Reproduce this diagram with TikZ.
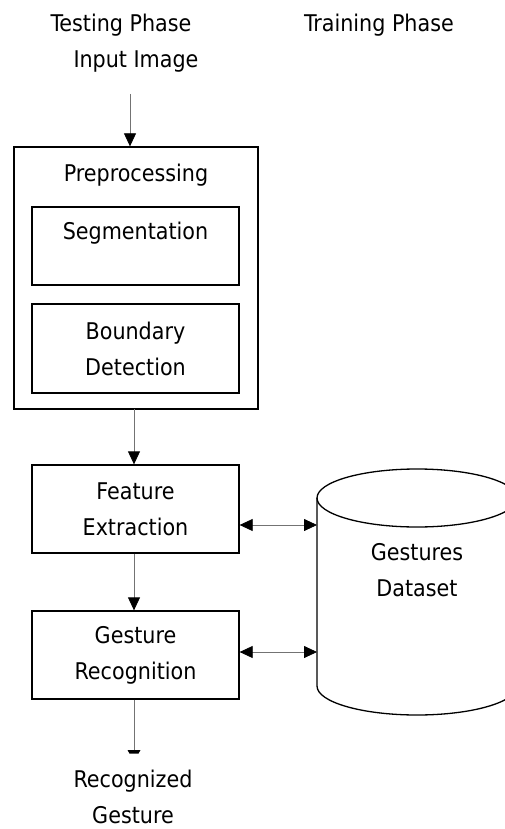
\documentclass[tikz,border=0pt]{standalone}
\usepackage{fontspec}
\setmainfont{DejaVu Sans Condensed}
\usetikzlibrary{arrows.meta}
\begin{document}
\begin{tikzpicture}[x=1pt,y=1pt,
  every node/.style={font=\fontsize{23}{36}\selectfont, inner sep=0pt, align=center},
  box/.style={draw=black, line width=1.3pt, minimum width=207pt},
  flow/.style={draw=black!55, line width=0.8pt, -{Triangle[length=13pt,width=12pt,fill=black,color=black]}},
  both/.style={draw=black!55, line width=0.8pt, {Triangle[length=13pt,width=12pt,fill=black,color=black]}-{Triangle[length=13pt,width=12pt,fill=black,color=black]}}
]
\useasboundingbox (0,0) rectangle (504,-829);

% headings
\node (testing) at (121,-25) {Testing Phase};
\node (training) at (379,-25) {Training Phase};
\node (input) at (136,-62) {Input Image};

% preprocessing stage
\node[draw=black, line width=1.3pt, minimum width=244pt, minimum height=262pt] (pre) at (136,-278) {};
\node (pretxt) at (136,-175) {Preprocessing};
\node[box, minimum height=78pt] (seg) at (135.5,-246) {};
\node (segtxt) at (135.5,-233) {Segmentation};
\node[box, minimum height=89pt] (bnd) at (135.5,-348.5) {Boundary\\Detection};

% feature and recognition stages
\node[box, minimum height=88pt] (feat) at (135.5,-509) {Feature\\Extraction};
\node[box, minimum height=88pt] (gest) at (135.5,-655) {Gesture\\Recognition};

% dataset cylinder
\draw[line width=1.3pt] (317,-498) -- (317,-686) arc[start angle=180,end angle=360,x radius=100,y radius=29] -- (517,-498);
\draw[line width=1.3pt] (417,-498) ellipse[x radius=100,y radius=29];
\node (data) at (417,-570) {Gestures\\Dataset};
\coordinate (dbF) at (317,-525);
\coordinate (dbG) at (317,-652);

% output label
\node (out) at (133,-797) {Recognized\\Gesture};

% connectors
\coordinate (inTop) at (130,-94);
\draw[flow] (inTop) -- (inTop |- pre.north);
\draw[flow] (134,-409) coordinate (preOut) -- (preOut |- feat.north);
\draw[flow] (feat.south -| 134,0) -- (gest.north -| 134,0);
\draw[both] (feat.east |- dbF) -- (dbF);
\draw[both] (gest.east |- dbG) -- (dbG);
\coordinate (outEnd) at (134,-750);
\draw[draw=black!55, line width=0.8pt] (gest.south -| outEnd) -- (outEnd);
\fill[black] (127.5,-750) -- (140.5,-750) -- (138.5,-753.5) -- (129.5,-753.5) -- cycle;
\end{tikzpicture}
\end{document}
